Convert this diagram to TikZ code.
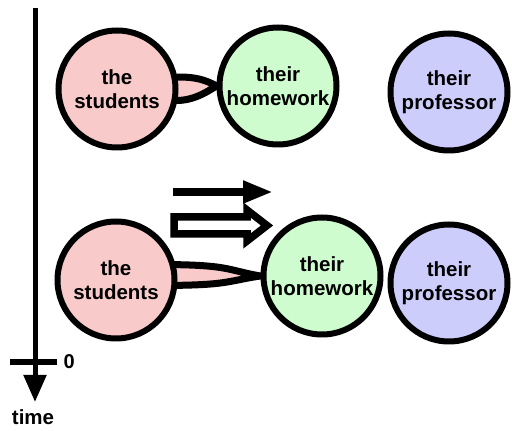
\documentclass[tikz,border=0pt]{standalone}
\usepackage{fontspec}
\setmainfont{Liberation Sans}
\usepackage{tikz}
\usetikzlibrary{arrows.meta,backgrounds,calc}
\definecolor{pinkfill}{HTML}{F9CACA}
\definecolor{greenfill}{HTML}{CEFCCE}
\definecolor{bluefill}{HTML}{CDCDFB}

\begin{document}
\begin{tikzpicture}[x=1pt, y=1pt,
    ent/.style={circle, draw=black, line width=6pt, minimum size=117pt, inner sep=0pt,
      align=center, font=\fontsize{20.5}{24}\selectfont\bfseries},
    link/.style={draw=black, fill=pinkfill, line width=7pt, line join=round}]
        \useasboundingbox (0,0) rectangle (512,431);
        % before: the students are bound to their homework
        \node[ent, fill=pinkfill] (s1) at (117,342) {the\\students};
        \node[ent, fill=greenfill] (h1) at (278,345) {their\\homework};
        \node[ent, fill=bluefill] (p1) at (449,339) {their\\professor};
        % after: the homework is pushed into the professor
        \node[ent, fill=pinkfill] (s2) at (116,151) {the\\students};
        \node[ent, fill=greenfill] (h2) at (322,155) {their\\homework};
        \node[ent, fill=bluefill] (p2) at (449,148) {their\\professor};
        \begin{scope}[on background layer]
          \draw[link] ($(s1.center)+(52,11)$) .. controls +(22,3) and +(-10,6) .. (h1.west)
            .. controls +(-10,-6) and +(22,-3) .. ($(s1.center)+(52,-11)$) -- cycle;
          \draw[link] ($(s2.center)+(40,15.5)$) .. controls +(75,0) and +(-35,6) .. (h2.west)
            .. controls +(-35,-5) and +(75,0) .. ($(s2.center)+(40,-5.5)$) -- cycle;
        \end{scope}
        % motion arrows
        \coordinate (a0) at (173,239);
        \coordinate (a1) at (273,239);
        \draw[line width=7.5pt, -{Triangle[length=30pt,width=21pt]}] (a0) -- (a1);
        \coordinate (b0) at (174,205.5);
        \draw[line width=7.5pt, fill=white, line join=miter]
          (b0) ++(0,8.5) -- ++(73,0) -- ++(0,7) -- (267,205.5) -- (247,190) -- ++(0,7)
          -- ($(b0)+(0,-8.5)$) -- cycle;
        % time axis
        \coordinate (t0) at (35,423);
        \coordinate (t1) at (35,29);
        \draw[line width=5pt, -{Triangle[length=27pt,width=22pt]}] (t0) -- (t1);
        \coordinate (k0) at (10,69);
        \coordinate (k1) at (57,69);
        \draw[line width=6pt] (k0) -- (k1);
        \node[font=\fontsize{20}{22}\selectfont\bfseries, right=3pt] (zero) at (k1) {0};
        \node[font=\fontsize{20.5}{24}\selectfont\bfseries] (time) at (33,14) {time};
      \end{tikzpicture}
\end{document}
